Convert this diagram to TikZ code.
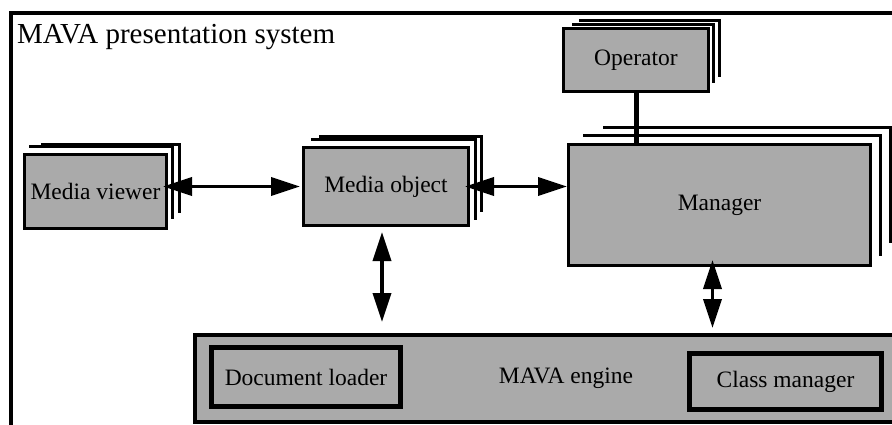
\documentclass[tikz,border=0pt]{standalone}
\usepackage{fontspec}
\setmainfont{Liberation Serif}
\usetikzlibrary{arrows.meta}
\definecolor{boxgray}{RGB}{170,170,170}
\tikzset{
  unit/.style={draw, fill=boxgray, line width=3pt, inner sep=0pt, font=\fontsize{23.5}{28}\selectfont},
  part/.style={unit, line width=5pt},
  layer/.style={line width=3pt},
  biarrow/.style={line width=3.5pt, {Triangle[length=29pt,width=18pt]}-{Triangle[length=29pt,width=18pt]}},
}
\begin{document}
\begin{tikzpicture}[x=1pt, y=-1pt]
\useasboundingbox (0,0) rectangle (892,425);
\clip (0,0) rectangle (892,425);

\draw[line width=3.5pt] (11,430) -- (11,13) -- (895,13);

\node[anchor=base west, inner sep=0pt, font=\fontsize{29}{34}\selectfont] (title) at (17,44) {MAVA presentation system};

\draw[layer] (41,144.5) -| (179.5,213);
\draw[layer] (29,147) -| (172,219);
\node[unit, minimum width=142pt, minimum height=74pt] (viewer) at (95.5,191.5) {Media viewer};

\draw[layer] (319,136.5) -| (481,212);
\draw[layer] (311,140) -| (475,220);
\node[unit, minimum width=165pt, minimum height=78pt] (object) at (386,186.5) {Media object};

\draw[layer] (579,20.5) -| (719,77);
\draw[layer] (572,25) -| (713,83);
\node[unit, minimum width=145pt, minimum height=63pt] (operator) at (636,60) {Operator};

\draw[layer] (603,127.5) -| (890.5,243);
\draw[layer] (583,135.5) -| (880,256);
\node[unit, minimum width=302pt, minimum height=121pt] (manager) at (719.5,205) {Manager};

\node[unit, line width=4pt, minimum width=742pt, minimum height=86.5pt] (engine) at (566,378.25) {MAVA engine};
\node[part, minimum width=189pt, minimum height=59pt] (loader) at (306,377) {Document loader};
\node[part, minimum width=192pt, minimum height=56pt] (classes) at (785.5,381.5) {Class manager};

\draw[line width=5pt] (operator.south) -- (operator.south |- manager.north);

\draw[biarrow, shorten <=-5pt, shorten >=2pt] (viewer.east |- object.west) -- (object.west);
\draw[biarrow, shorten <=-5pt] (object.east) -- (manager.west |- object.east);
\draw[biarrow, shorten <=5pt, shorten >=11pt] ([xshift=-4pt]object.south) -- ([xshift=-4pt]object.south |- engine.north);
\draw[biarrow, shorten <=-7pt, shorten >=5pt] ([xshift=-7pt]manager.south) -- ([xshift=-7pt]manager.south |- engine.north);

\end{tikzpicture}
\end{document}
